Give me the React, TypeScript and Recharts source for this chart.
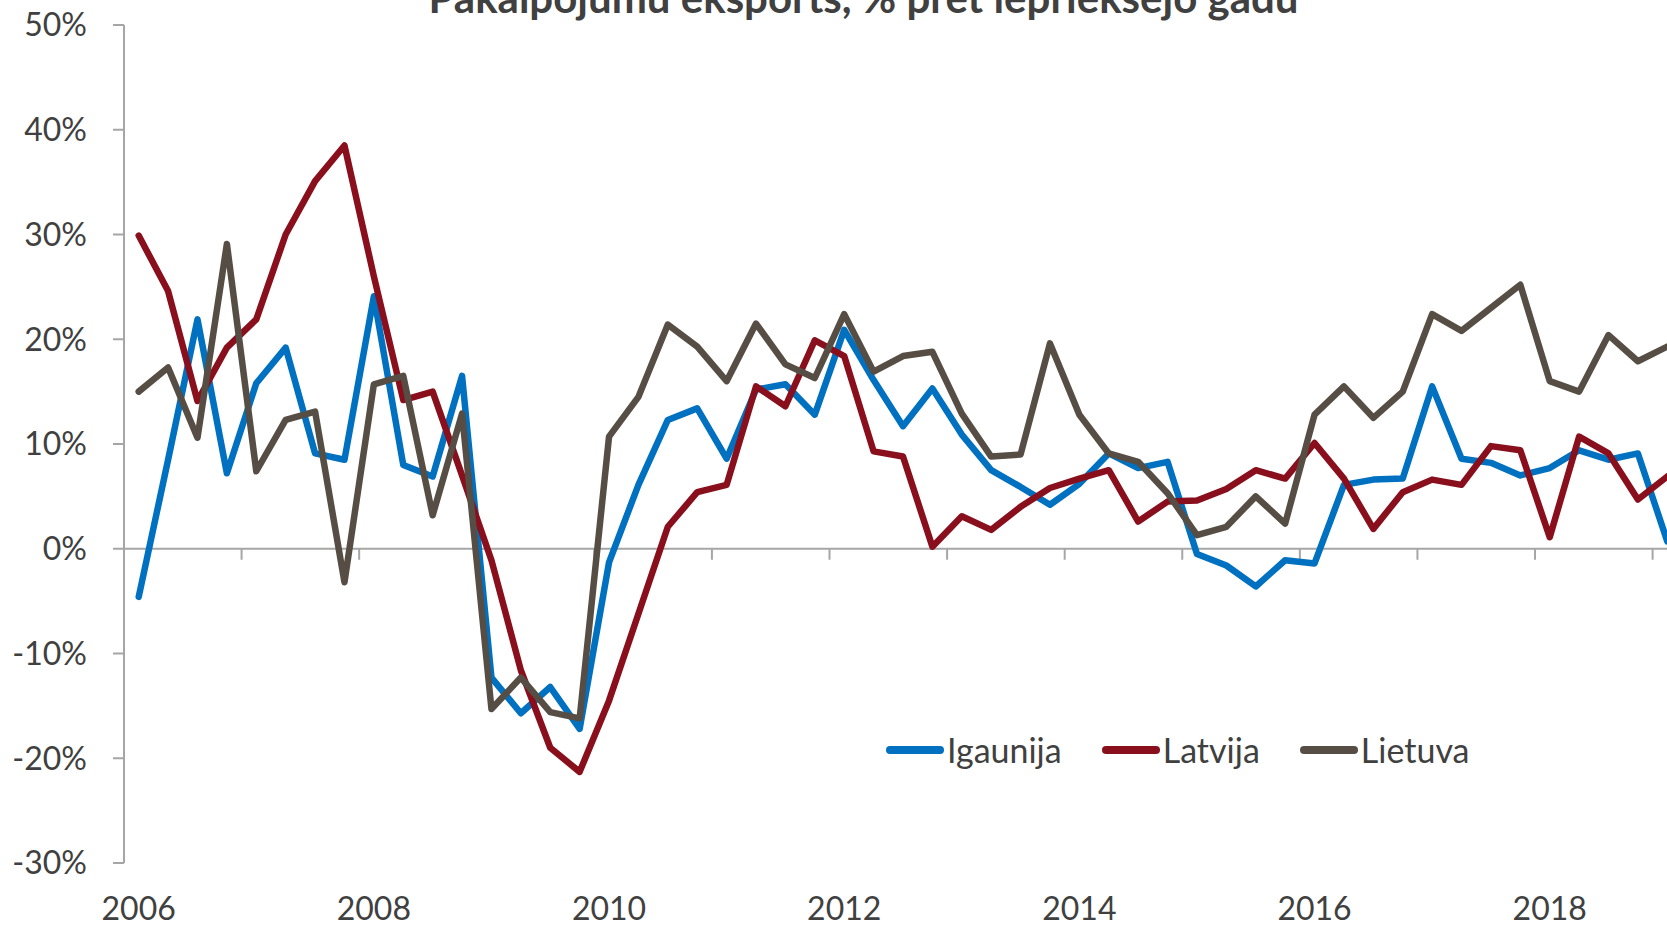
import React from 'react';
import {
  LineChart,
  Line,
  XAxis,
  YAxis,
  ReferenceLine,
  Legend,
} from 'recharts';

// quarterly data, 2006 Q1 .. 2019 Q1, % vs previous year
const START_YEAR = 2006;
const YEAR_TICKS = [2006, 2008, 2010, 2012, 2014, 2016, 2018];
const Y_TICKS = [-30, -20, -10, 0, 10, 20, 30, 40, 50];

const igaunija = [
  -4.6, 8.5, 21.9, 7.2, 15.8, 19.2, 9.1, 8.5, 24.1, 8.0, 6.9, 16.5,
  -12.3, -15.7, -13.2, -17.2, -1.3, 6.1, 12.3, 13.4, 8.6, 15.2, 15.7, 12.8,
  20.9, 16.1, 11.7, 15.3, 10.9, 7.5, 5.9, 4.2, 6.2, 9.1, 7.7, 8.3,
  -0.5, -1.6, -3.6, -1.1, -1.4, 6.1, 6.6, 6.7, 15.5, 8.6, 8.2, 7.0,
  7.7, 9.4, 8.5, 9.1, 0.7,
];

const latvija = [
  29.9, 24.6, 14.1, 19.2, 21.9, 30.0, 35.1, 38.5, 26.0, 14.2, 15.0, 7.0,
  -1.1, -11.6, -19.0, -21.3, -14.5, -6.2, 2.1, 5.4, 6.1, 15.5, 13.6, 19.9,
  18.4, 9.3, 8.8, 0.2, 3.1, 1.8, 4.0, 5.8, 6.7, 7.5, 2.6, 4.5,
  4.6, 5.7, 7.5, 6.7, 10.1, 6.7, 1.9, 5.4, 6.6, 6.1, 9.8, 9.4,
  1.1, 10.7, 9.1, 4.7, 6.9,
];

const lietuva = [
  15.0, 17.3, 10.6, 29.1, 7.4, 12.3, 13.1, -3.2, 15.7, 16.5, 3.2, 12.9,
  -15.3, -12.3, -15.6, -16.2, 10.7, 14.5, 21.4, 19.3, 16.0, 21.5, 17.6, 16.3,
  22.4, 16.9, 18.4, 18.8, 12.9, 8.8, 9.0, 19.6, 12.8, 9.1, 8.3, 5.3,
  1.3, 2.1, 5.0, 2.4, 12.8, 15.5, 12.5, 15.0, 22.4, 20.8, 23.0, 25.2,
  16.0, 15.0, 20.4, 17.9, 19.3,
];

const data = igaunija.map((v, i) => ({
  idx: i,
  Igaunija: v,
  Latvija: latvija[i],
  Lietuva: lietuva[i],
}));

const N = data.length;
// tick marks on the 0% line sit between Q4 and Q1
const yearBounds = Array.from({ length: Math.floor((N - 1) / 4) }, (_, k) => 3.5 + 4 * k);

const TEXT = '#404040';
const AXIS = '#a6a6a6';
const FONT = 'Lato, "Open Sans", sans-serif';

const TICK_STYLE = { fontFamily: FONT, fontSize: 32, fill: TEXT } as const;

const SERIES = [
  { key: 'Igaunija', color: '#0070c0' },
  { key: 'Latvija', color: '#8a0f1d' },
  { key: 'Lietuva', color: '#564e44' },
];

const LegendContent = (props: any) => (
  <div style={{ display: 'flex', alignItems: 'center', fontFamily: FONT, fontSize: 34, color: TEXT }}>
    {(props.payload || []).map((p: any, i: number) => (
      <div key={p.value} style={{ display: 'flex', alignItems: 'center', marginLeft: i ? 40 : 0 }}>
        <span
          style={{
            display: 'inline-block',
            width: 58,
            height: 8,
            borderRadius: 4,
            background: p.color,
            marginRight: 3,
          }}
        />
        <span>{p.value}</span>
      </div>
    ))}
  </div>
);

export default function App() {
  return (
    <div
      style={{
        position: 'absolute',
        left: 0,
        top: 0,
        width: 1667,
        height: 926,
        overflow: 'hidden',
        background: '#fff',
      }}
    >
      <LineChart width={1682} height={926} data={data} margin={{ top: 25, right: 0, bottom: 0, left: 0 }}>
        <XAxis
          dataKey="idx"
          type="number"
          domain={[-0.5, N - 0.5]}
          allowDataOverflow
          ticks={YEAR_TICKS.map((y) => (y - START_YEAR) * 4)}
          tickFormatter={(v: number) => String(START_YEAR + v / 4)}
          axisLine={false}
          tickLine={false}
          tickSize={0}
          tickMargin={34}
          height={63}
          tick={TICK_STYLE}
        />
        <YAxis
          domain={[-30, 50]}
          ticks={Y_TICKS}
          tickFormatter={(v: number) => `${v}%`}
          width={124}
          axisLine={{ stroke: AXIS, strokeWidth: 2 }}
          tickLine={{ stroke: AXIS, strokeWidth: 2 }}
          tickSize={11}
          tickMargin={26}
          tick={TICK_STYLE}
        />
        <ReferenceLine y={0} stroke={AXIS} strokeWidth={2} />
        {yearBounds.map((b) => (
          <ReferenceLine
            key={b}
            segment={[
              { x: b, y: 0 },
              { x: b, y: -1.05 },
            ]}
            stroke={AXIS}
            strokeWidth={2}
          />
        ))}
        {SERIES.map((s) => (
          <Line
            key={s.key}
            type="linear"
            dataKey={s.key}
            name={s.key}
            stroke={s.color}
            strokeWidth={6.5}
            strokeLinejoin="round"
            strokeLinecap="round"
            dot={false}
            activeDot={false}
            isAnimationActive={false}
          />
        ))}
        <Legend
          layout="horizontal"
          verticalAlign="middle"
          align="center"
          content={<LegendContent />}
          wrapperStyle={{ left: 886, top: 729, width: 'auto' }}
        />
      </LineChart>
      <svg width={1667} height={60} style={{ position: 'absolute', left: 0, top: 0 }}>
        <text
          x={863.5}
          y={12.7}
          textAnchor="middle"
          fontFamily={FONT}
          fontWeight={700}
          fontSize={42}
          fill={TEXT}
        >
          Pakalpojumu eksports, % pret iepriekšējo gadu
        </text>
      </svg>
    </div>
  );
}
